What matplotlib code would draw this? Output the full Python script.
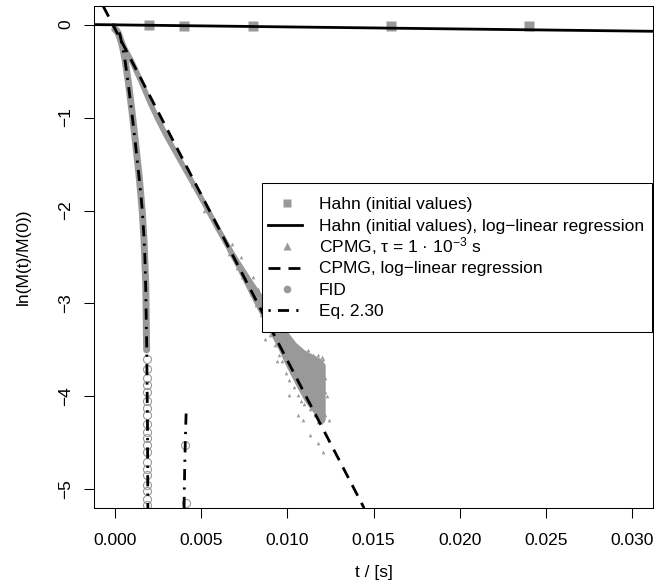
import matplotlib

matplotlib.use("Agg")
import matplotlib.pyplot as plt
from matplotlib.lines import Line2D
from matplotlib.patches import Rectangle

plt.rcParams["font.family"] = ["Liberation Sans", "DejaVu Sans"]
plt.rcParams["mathtext.fontset"] = "custom"
plt.rcParams["mathtext.rm"] = "Liberation Sans"
plt.rcParams["mathtext.it"] = "Liberation Sans:italic"
plt.rcParams["axes.unicode_minus"] = True

# ---- data ----
# Hahn echo, initial values
hahn_t = [0.002, 0.004, 0.008, 0.016, 0.024]
hahn_y = [-0.005, -0.02, -0.02, -0.02, -0.015]
hahn_fit = (-0.0027, -2.22)  # intercept, slope

# CPMG decay: dense core of the trace
cpmg_t = [0, 0.0002, 0.0004, 0.0006, 0.0008, 0.001, 0.0015, 0.002, 0.0025, 0.003,
          0.004, 0.005, 0.006, 0.007, 0.0075]
cpmg_y = [-0.05, -0.1, -0.18, -0.26, -0.33, -0.4, -0.6, -0.82, -1.02, -1.2,
          -1.53, -1.86, -2.2, -2.53, -2.7]
# CPMG: spread of the noisy tail (upper / lower edge of the cloud)
cpmg_band_t = [0.0065, 0.007, 0.008, 0.009, 0.0095, 0.010, 0.0105, 0.011, 0.0115,
               0.012, 0.0122]
cpmg_band_hi = [-2.32, -2.47, -2.76, -3.03, -3.17, -3.3, -3.42, -3.5, -3.55,
                -3.6, -3.66]
cpmg_band_lo = [-2.43, -2.6, -2.97, -3.32, -3.5, -3.7, -3.88, -4.05, -4.17,
                -4.3, -4.25]
# CPMG: loose points around the cloud
cpmg_scatter_t = [0.0045, 0.0052, 0.0058, 0.0063, 0.0066, 0.0068, 0.0071, 0.0073, 0.0074,
                  0.0077, 0.0079, 0.0080, 0.0082, 0.0083, 0.0085, 0.0086, 0.0088, 0.0088,
                  0.0090, 0.0091, 0.0093, 0.0093, 0.0095, 0.0096, 0.0097, 0.0098, 0.0099,
                  0.0100, 0.0101, 0.0102, 0.0103, 0.0104, 0.0105, 0.0106, 0.0106, 0.0107,
                  0.0108, 0.0109, 0.0110, 0.0110, 0.0111, 0.0112, 0.0113, 0.0113, 0.0114,
                  0.0115, 0.0116, 0.0116, 0.0117, 0.0118, 0.0118, 0.0119, 0.0119, 0.0120,
                  0.0120, 0.0121, 0.0121, 0.0121, 0.0122, 0.0122, 0.0122, 0.0123, 0.0124,
                  0.0113, 0.0106, 0.0118, 0.0121, 0.0109, 0.0101, 0.0094, 0.0087]
cpmg_scatter_y = [-1.73, -2.0, -2.15, -2.3, -2.47, -2.36, -2.62, -2.5, -2.72,
                  -2.7, -2.9, -2.72, -3.02, -2.84, -3.12, -2.92, -3.25, -3.05,
                  -3.34, -3.1, -3.45, -3.22, -3.55, -3.28, -3.62, -3.38, -3.75,
                  -3.36, -3.82, -3.4, -3.74, -3.9, -3.46, -3.98, -3.75, -3.62,
                  -4.05, -3.52, -3.6, -4.08, -3.92, -3.5, -4.14, -3.85, -4.02,
                  -3.55, -4.2, -3.9, -4.1, -3.55, -4.28, -3.95, -4.22, -3.58,
                  -4.05, -3.85, -4.25, -3.6, -3.95, -4.2, -3.8, -4.0, -4.25,
                  -4.42, -4.2, -4.5, -4.6, -4.25, -3.98, -3.62, -3.38]
cpmg_fit = (-0.04, -357.0)  # intercept, slope

# FID: dense part of the trace and the sparse points near the zero crossing
fid_t = [0, 0.0001, 0.0002, 0.0003, 0.0004, 0.0005, 0.0006, 0.0008, 0.001, 0.0012,
         0.0014, 0.0015, 0.0016, 0.0017, 0.0018, 0.00185]
fid_y = [-0.05, -0.06, -0.09, -0.14, -0.2, -0.28, -0.38, -0.63, -0.93, -1.26,
         -1.6, -1.8, -2.02, -2.32, -2.8, -3.5]
fid_tail_t = [0.00186, 0.00188, 0.00185, 0.00187, 0.00189, 0.00186, 0.00188, 0.00187,
              0.00185, 0.00188, 0.00187, 0.00189, 0.00186, 0.00188, 0.00187, 0.00186,
              0.00188, 0.00187, 0.00189, 0.00186, 0.0041, 0.00412]
fid_tail_y = [-3.6, -3.7, -3.8, -3.88, -3.95, -4.05, -4.12, -4.2,
              -4.3, -4.38, -4.45, -4.52, -4.6, -4.7, -4.78, -4.85,
              -4.95, -5.02, -5.1, -5.17, -4.52, -5.15]

# Eq. 2.30, first lobe and start of the third lobe
eq_t = [0, 0.0001, 0.0002, 0.0003, 0.0004, 0.0005, 0.0006, 0.0007, 0.0008, 0.0009,
        0.001, 0.0011, 0.0012, 0.0013, 0.0014, 0.0015, 0.0016, 0.0017, 0.00175,
        0.0018, 0.00185, 0.0019, 0.00193]
eq_y = [0, -0.01, -0.05, -0.11, -0.19, -0.28, -0.39, -0.52, -0.66, -0.81,
        -0.96, -1.12, -1.28, -1.45, -1.62, -1.8, -2.0, -2.3, -2.5,
        -2.85, -3.4, -4.3, -5.6]
eq2_t = [0.00400, 0.00403, 0.00407, 0.00411, 0.00415]
eq2_y = [-5.6, -5.05, -4.65, -4.35, -4.13]

x_ticks = [0.0, 0.005, 0.010, 0.015, 0.020, 0.025, 0.030]
y_ticks = [0, -1, -2, -3, -4, -5]

legend_labels = [
    "Hahn (initial values)",
    "Hahn (initial values), log\u2212linear regression",
    "CPMG, \u03c4 = 1 \u00b7 10$^{-3}$ s",
    "CPMG, log\u2212linear regression",
    "FID",
    "Eq. 2.30",
]

# ---- layout ----
W, H, DPI = 654, 587, 100
FS = 12.5
GRAY = "#999999"
LW = 2.0
DASHED = (4.3, 2.9)
DASHDOT = (0.8, 2.6, 4.0, 2.6)


def fx(px):
    return px / W


def fy(py):
    return 1 - py / H


fig = plt.figure(figsize=(W / DPI, H / DPI), dpi=DPI)
ax = fig.add_axes([fx(94), fy(508), fx(653) - fx(94), fy(6) - fy(508)])

# points
ax.plot(fid_t, fid_y, color=GRAY, lw=5, solid_capstyle="round", zorder=2)
ax.plot(fid_tail_t, fid_tail_y, ls="none", marker="o", ms=5.8, mfc="none",
        mec=GRAY, mew=0.8, zorder=2)
ax.plot(cpmg_t, cpmg_y, color=GRAY, lw=3.8, solid_capstyle="round", zorder=2)
ax.fill_between(cpmg_band_t, cpmg_band_lo, cpmg_band_hi, color=GRAY, lw=0, zorder=2)
ax.plot(cpmg_scatter_t, cpmg_scatter_y, ls="none", marker="^", ms=2.6,
        color=GRAY, mec="none", zorder=2)
ax.plot(hahn_t, hahn_y, ls="none", marker="s", ms=7.8, color=GRAY, mec="none", zorder=2)

# lines
ax.axline((0, hahn_fit[0]), slope=hahn_fit[1], color="black", lw=LW, zorder=3)
ax.axline((0, cpmg_fit[0]), slope=cpmg_fit[1], color="black", lw=LW,
          dashes=DASHED, dash_capstyle="butt", zorder=3)
ax.plot(eq_t, eq_y, color="black", lw=LW, dashes=DASHDOT, zorder=3)
ax.plot(eq2_t, eq2_y, color="black", lw=LW, dashes=DASHDOT, zorder=3)

ax.set_xlim(-0.0012, 0.0312)
ax.set_ylim(-5.2, 0.2)
ax.set_xticks(x_ticks)
ax.set_xticklabels([f"{v:.3f}" for v in x_ticks])
ax.set_yticks(y_ticks)
ax.set_yticklabels([f"{v}".replace("-", "\u2212") for v in y_ticks])
ax.tick_params(length=7.2, width=0.75, labelsize=FS, color="black")
ax.tick_params(axis="x", pad=10.5)
ax.tick_params(axis="y", pad=8)
for lab in ax.get_yticklabels():
    lab.set_rotation(90)
    lab.set_va("center")
for sp in ax.spines.values():
    sp.set_linewidth(0.75)

fig.text(fx(373.5), fy(572), "t / [s]", ha="center", va="center", fontsize=FS)
fig.text(fx(23), fy(257), "ln(M(t)/M(0))", ha="center", va="center",
         rotation=90, fontsize=FS)

# legend drawn by hand (R style box)
box = Rectangle((fx(262), fy(332)), fx(652) - fx(262), fy(183) - fy(332),
                transform=fig.transFigure, facecolor="white", edgecolor="black",
                lw=0.75, zorder=5)
fig.add_artist(box)
rows = [203, 224.5, 246, 267.5, 289, 310]
sym_x, line_x0, line_x1, text_x = 287, 268, 302, 319
handles = [
    dict(ls="none", marker="s", ms=5.5, color=GRAY, mec="none"),
    dict(color="black", lw=LW),
    dict(ls="none", marker="^", ms=5.5, color=GRAY, mec="none"),
    dict(color="black", lw=LW, dashes=DASHED, dash_capstyle="butt"),
    dict(ls="none", marker="o", ms=5.5, color=GRAY, mec="none"),
    dict(color="black", lw=LW, dashes=DASHDOT),
]
for row, label, h in zip(rows, legend_labels, handles):
    if h.get("ls") == "none":
        xs = [fx(sym_x)]
    else:
        xs = [fx(line_x0), fx(line_x1)]
    fig.add_artist(Line2D(xs, [fy(row)] * len(xs), transform=fig.transFigure,
                          zorder=6, **h))
    fig.text(fx(text_x), fy(row + 6), label, ha="left", va="baseline",
             fontsize=FS, zorder=6)

fig.savefig("out.png", dpi=DPI)
